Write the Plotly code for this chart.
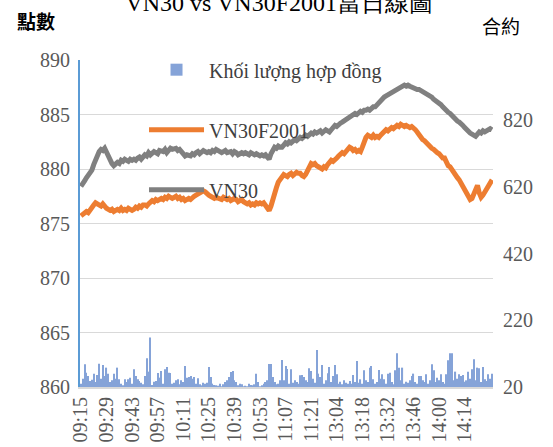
import plotly.graph_objects as go

# ---- categories (minutes) ----
morning = [f"{h:02d}:{m:02d}" for h in (9, 10, 11) for m in range(60)]
morning = [t for t in morning if "09:15" <= t <= "11:30"]
afternoon = [f"{h:02d}:{m:02d}" for h in (13, 14) for m in range(60)]
afternoon = [t for t in afternoon if "13:00" <= t <= "14:29"]
times = morning + afternoon

tick_labels = ["09:15", "09:29", "09:43", "09:57", "10:11", "10:25", "10:39", "10:53",
               "11:07", "11:21", "13:04", "13:18", "13:32", "13:46", "14:00", "14:14"]

vn30 = [
    878.4, 878.6, 878.9, 879.2, 879.4, 879.7, 879.9, 880.4, 880.9, 881.3,
    881.6, 881.8, 881.7, 881.9, 881.5, 881.1, 880.7, 880.5, 880.3, 880.4,
    880.6, 880.5, 880.8, 880.7, 880.9, 880.8, 880.7, 880.9, 880.8, 880.9,
    880.8, 881.0, 881.1, 880.9, 881.2, 881.3, 881.2, 881.5, 881.3, 881.4,
    881.6, 881.5, 881.4, 881.7, 881.7, 881.6, 881.8, 881.5, 881.7, 881.9,
    881.8, 881.9, 881.9, 881.7, 881.8, 881.6, 881.4, 881.2, 881.3, 881.3,
    881.2, 881.4, 881.3, 881.5, 881.6, 881.4, 881.5, 881.7, 881.6, 881.5,
    881.6, 881.5, 881.7, 881.6, 881.8, 881.7, 881.7, 881.5, 881.6, 881.7,
    881.5, 881.6, 881.6, 881.4, 881.6, 881.5, 881.3, 881.4, 881.5, 881.4,
    881.5, 881.4, 881.3, 881.5, 881.4, 881.3, 881.4, 881.3, 881.2, 881.3,
    881.2, 881.3, 881.1, 880.9, 881.4, 881.8, 882.0, 881.9, 882.1, 882.0,
    882.0, 882.2, 882.4, 882.3, 882.5, 882.4, 882.6, 882.7, 882.6, 882.8,
    882.9, 882.8, 883.0, 883.1, 883.0, 883.2, 883.3, 883.2, 883.4, 883.3,
    883.4, 883.5, 883.3, 883.4, 883.6, 883.5,
    883.4, 883.6, 883.8, 884.0, 883.9, 884.1, 884.2, 884.3, 884.4, 884.5,
    884.6, 884.8, 884.9, 885.0, 885.1, 885.0, 885.2, 885.3, 885.2, 885.4,
    885.4, 885.5, 885.4, 885.6, 885.7, 885.7, 885.9, 886.1, 886.3, 886.5,
    886.6, 886.7, 886.8, 886.9, 887.0, 887.0, 887.1, 887.3, 887.4, 887.5,
    887.6, 887.7, 887.6, 887.7, 887.6, 887.5, 887.5, 887.4, 887.3, 887.3,
    887.2, 887.1, 887.0, 887.0, 886.9, 886.8, 886.6, 886.4, 886.3, 886.1,
    886.0, 885.9, 885.7, 885.5, 885.4, 885.2, 885.1, 884.9, 884.7, 884.6,
    884.4, 884.3, 884.2, 884.0, 883.8, 883.6, 883.5, 883.3, 883.2, 883.1,
    883.0, 883.2, 883.4, 883.3, 883.5, 883.4, 883.5, 883.6, 883.7, 883.6,
]

vn30f2001 = [
    875.7, 875.8, 875.9, 876.1, 876.0, 876.3, 876.5, 876.7, 876.9, 876.8,
    876.7, 876.6, 876.8, 876.5, 876.4, 876.3, 876.2, 876.3, 876.1, 876.2,
    876.3, 876.2, 876.4, 876.2, 876.3, 876.2, 876.4, 876.3, 876.2, 876.3,
    876.5, 876.4, 876.6, 876.5, 876.7, 876.7, 876.6, 876.8, 876.9, 877.1,
    877.0, 877.2, 877.1, 877.2, 877.3, 877.2, 877.4, 877.3, 877.5, 877.4,
    877.3, 877.4, 877.5, 877.3, 877.4, 877.2, 877.3, 877.1, 877.2, 877.3,
    877.2, 877.4, 877.5, 877.6, 877.7, 877.8, 877.9, 878.0, 877.9, 877.7,
    877.6, 877.5, 877.4, 877.3, 877.4, 877.3, 877.3, 877.2, 877.4, 877.3,
    877.2, 877.3, 877.1, 877.2, 877.3, 877.2, 877.0, 877.1, 877.2, 877.0,
    876.9, 876.8, 876.9, 876.7, 876.8, 876.7, 876.9, 876.8, 876.9, 876.8,
    876.9, 876.7, 876.4, 876.2, 876.6, 877.3, 877.8, 878.3, 878.8, 879.0,
    879.2, 879.5, 879.4, 879.3, 879.5, 879.6, 879.4, 879.5, 879.7, 879.6,
    879.6, 879.4, 879.3, 879.5, 879.9, 880.2, 880.5, 880.4, 880.5, 880.3,
    880.2, 880.1, 880.0, 880.2, 880.1, 880.4,
    880.6, 880.8, 880.7, 880.8, 881.0, 881.2, 881.3, 881.5, 881.4, 881.6,
    881.8, 882.0, 881.9, 881.7, 881.8, 881.6, 881.7, 881.6, 882.0, 882.5,
    882.9, 883.1, 883.0, 882.9, 883.1, 882.9, 883.0, 882.9, 883.1, 883.3,
    883.4, 883.6, 883.5, 883.6, 883.8, 883.7, 883.9, 884.0, 883.9, 884.1,
    884.0, 883.9, 884.0, 883.9, 883.8, 883.9, 883.8, 883.6, 883.4, 883.1,
    882.9, 882.7, 882.6, 882.4, 882.2, 882.1, 881.9, 881.8, 881.6, 881.5,
    881.4, 881.2, 881.0, 881.0, 880.6, 880.3, 880.2, 879.9, 879.6, 879.4,
    879.2, 879.0, 878.7, 878.3, 878.0, 877.6, 877.3, 877.2, 877.3, 877.8,
    878.3, 878.5, 877.8, 877.4, 877.6, 877.9, 878.2, 878.4, 878.6, 879.0,
]

volume = [
    30, 45, 88, 63, 53, 38, 42, 60, 35, 56,
    90, 45, 86, 53, 78, 60, 35, 40, 60, 45,
    78, 43, 30, 25, 43, 35, 43, 48, 30, 73,
    53, 43, 38, 33, 28, 53, 106, 66, 168, 26,
    36, 38, 62, 48, 68, 30, 73, 80, 63, 62,
    30, 33, 40, 43, 28, 40, 35, 83, 48, 50,
    53, 45, 50, 30, 46, 28, 25, 33, 30, 33,
    80, 50, 30, 26, 25, 24, 30, 22, 28, 35,
    40, 50, 65, 68, 40, 35, 25, 30, 28, 22,
    24, 22, 30, 26, 25, 28, 60, 35, 22, 25,
    30, 35, 40, 89, 89, 50, 35, 28, 30, 40,
    101, 40, 83, 74, 30, 73, 33, 40, 35, 30,
    55, 56, 50, 40, 35, 76, 68, 45, 33, 131,
    60, 50, 86, 30, 40, 61,
    80, 35, 53, 86, 58, 30, 36, 28, 40, 33,
    30, 38, 30, 56, 35, 98, 33, 43, 30, 70,
    40, 35, 78, 83, 43, 30, 35, 71, 45, 58,
    43, 30, 60, 63, 35, 28, 70, 121, 78, 40,
    78, 30, 36, 33, 40, 53, 60, 35, 30, 53,
    53, 40, 35, 58, 30, 40, 88, 70, 35, 48,
    40, 58, 35, 30, 58, 100, 121, 121, 40, 66,
    45, 58, 53, 56, 36, 40, 66, 45, 73, 103,
    40, 78, 76, 35, 80, 43, 38, 58, 45, 60,
]

left_ticks = [860, 865, 870, 875, 880, 885, 890]
right_ticks = [20, 220, 420, 620, 820]

SERIF = "Liberation Serif"
CJK = "Noto Sans CJK TC"

fig = go.Figure()
fig.add_trace(go.Bar(
    x=times, y=volume, name="Khối lượng hợp đồng", yaxis="y2",
    marker=dict(color="#4472C4", line=dict(width=0)), opacity=0.65,
    legendgroup="a",
))
fig.add_trace(go.Scatter(
    x=times, y=vn30f2001, name="VN30F2001", mode="lines",
    line=dict(color="#ED7D31", width=5), legendgroup="b",
))
fig.add_trace(go.Scatter(
    x=times, y=vn30, name="VN30", mode="lines",
    line=dict(color="#808080", width=5), legendgroup="c",
))

fig.update_layout(
    width=553, height=447,
    margin=dict(l=80, r=60, t=60, b=60, autoexpand=False),
    paper_bgcolor="white", plot_bgcolor="white",
    font=dict(family=SERIF, size=20, color="#595959"),
    bargap=0.4,
    title=dict(text="VN30 vs VN30F2001當日線圖", x=0.505, xanchor="center",
               yref="container", y=0.995, yanchor="middle", automargin=False,
               font=dict(family=SERIF, size=24, color="#000000")),
    xaxis=dict(type="category", categoryorder="array", categoryarray=times,
               tickmode="array", tickvals=tick_labels, ticktext=tick_labels,
               tickangle=-90, showgrid=False, showline=True, linecolor="#D9D9D9",
               linewidth=2, ticks="", automargin=False,
               tickfont=dict(family=SERIF, size=20, color="#595959"),
               range=[-0.5, len(times) - 0.5]),
    yaxis=dict(range=[860, 890], tickvals=left_ticks, showgrid=True,
               gridcolor="#D9D9D9", gridwidth=1, showline=True, linecolor="#5B9BD5",
               linewidth=2, ticks="", zeroline=False, automargin=False,
               ticklabelstandoff=4,
               tickfont=dict(family=SERIF, size=20, color="#595959")),
    yaxis2=dict(range=[20, 1000], tickvals=right_ticks, overlaying="y", side="right",
                showgrid=False, showline=False, zeroline=False, ticks="",
                automargin=False, ticklabelstandoff=9,
                tickfont=dict(family=SERIF, size=20, color="#595959")),
    legend=dict(x=0.155, y=1.03, xanchor="left", yanchor="top",
                bgcolor="rgba(0,0,0,0)", tracegroupgap=31, itemwidth=55,
                font=dict(family=SERIF, size=20, color="#404040"),
                traceorder="grouped"),
    annotations=[
        dict(text="<b>點數</b>", xref="paper", yref="paper", x=-0.157, y=1.122,
             xanchor="left", yanchor="middle", showarrow=False,
             font=dict(family=CJK, size=19, color="#000000")),
        dict(text="合約", xref="paper", yref="paper", x=0.969, y=1.107,
             xanchor="left", yanchor="middle", showarrow=False,
             font=dict(family=CJK, size=19, color="#000000")),
    ],
)

fig.write_html("out.html", config={"displayModeBar": False},
               post_script="document.body.style.margin='0';document.body.style.padding='0';")
